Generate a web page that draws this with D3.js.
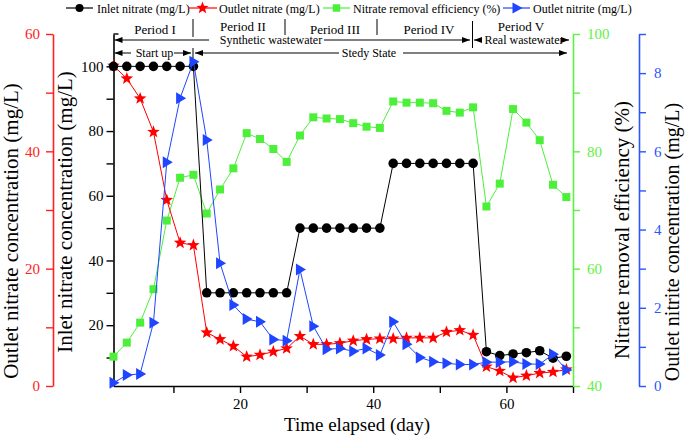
<!DOCTYPE html>
<html><head><meta charset="utf-8">
<script src="https://cdn.jsdelivr.net/npm/d3@7/dist/d3.min.js"></script>
<style>body{margin:0;background:#fff}svg{display:block;font-family:"Liberation Serif","Times New Roman",serif}svg text{font-family:"Liberation Serif","Times New Roman",serif}</style>
</head><body><svg id="c" width="685" height="437"></svg>
<script>
// ---------------- data ----------------
const days = [1,3,5,7,9,11,13,15,17,19,21,23,25,27,29,31,33,35,37,39,41,43,45,47,49,51,53,55,57,59,61,63,65,67,69];
const inletNitrate = [100,100,100,100,100,100,100, 30,30,30,30,30,30,30, 50,50,50,50,50,50,50, 70,70,70,70,70,70,70, 11.8,10.6,11.1,11.5,12.1,9.8,10.4];
const outletNitrate = [54.6,52.4,49.0,43.3,31.7,24.4,24.0, 9.1,7.95,6.8,5.0,5.3,5.85,6.4, 8.5,7.1,7.1,7.3,7.7,7.95,8.07, 8.07,8.2,8.2,8.2,9.2,9.5,8.7, 3.3,2.56,1.4,1.76,2.2,2.4,2.8];
const removalEff = [45.0,47.4,50.8,56.5,68.2,75.5,76.0, 69.4,73.5,77.1,83.1,82.1,80.4,78.2, 82.7,85.8,85.6,85.5,84.8,84.2,84.0, 88.5,88.3,88.3,88.2,86.9,86.6,87.5, 70.6,74.5,87.2,84.9,81.9,74.3,72.2];
const outletNitrite = [0.08,0.28,0.31,1.62,5.72,7.36,8.29, 6.29,3.14,2.07,1.71,1.64,1.19,1.16, 2.98,1.53,0.94,0.96,0.89,0.96,0.79, 1.64,1.07,0.73,0.62,0.58,0.55,0.55, 0.61,0.61,0.62,0.56,0.56,0.81,0.41];

const xTickValues = [10,20,30,40,50,60,70];
const xTickLabels = [20,40,60];
const inletTicks = [10,20,30,40,50,60,70,80,90,100];
const inletLabels = [20,40,60,80,100];
const outletTicks = [0,10,20,30,40,50,60];
const outletLabels = [0,20,40,60];
const effTicks = [40,50,60,70,80,90,100];
const effLabels = [40,60,80,100];
const nitriteTicks = [0,1,2,3,4,5,6,7,8,9];
const nitriteLabels = [0,2,4,6,8];

const seriesNames = ["Inlet nitrate (mg/L)","Outlet nitrate (mg/L)","Nitrate removal efficiency (%)","Outlet nitrite (mg/L)"];
const periodNames = ["Period I","Period II","Period III","Period IV","Period V"];

// ---------------- styles ----------------
const BLACK="#000", RED="#ff0000", GREEN="#4cf03a", BLUE="#1f45ff";
const RED_AX="#ff2020", GREEN_AX="#5ff040", BLUE_AX="#2a55ff";
const SERIF='"Liberation Serif","Times New Roman",serif';

const svg = d3.select("#c");
const L=113.5, R=573, B=386, T=34;

const x = d3.scaleLinear().domain([1,70]).range([L,R]);
const yIn = d3.scaleLinear().domain([1.2,110]).range([B,T]);
const yOut = d3.scaleLinear().domain([0,60]).range([B,T]);
const yEff = d3.scaleLinear().domain([40,100]).range([B,T]);
const yNi = d3.scaleLinear().domain([0,9]).range([B,T]);

function styleAxis(g, color, fs){
  g.attr("font-family",SERIF).attr("font-size",fs);
  g.selectAll("path.domain").attr("stroke",color).attr("stroke-width",1.6);
  g.selectAll(".tick line").attr("stroke",color).attr("stroke-width",1.4);
  g.selectAll(".tick text").attr("fill",color).style("font-size",fs+"px").style("font-family",SERIF);
}
const fmt = labels => d => labels.includes(d) ? d : "";

// x axis
const gx = svg.append("g").attr("transform",`translate(0,${B})`)
  .call(d3.axisBottom(x).tickValues(xTickValues).tickFormat(fmt(xTickLabels)).tickSize(7).tickSizeOuter(0).tickPadding(5));
styleAxis(gx,BLACK,15);

// inlet axis
const gin = svg.append("g").attr("transform",`translate(${L},0)`)
  .call(d3.axisLeft(yIn).tickValues(inletTicks).tickFormat(fmt(inletLabels)).tickSize(7).tickSizeOuter(0).tickPadding(3));
styleAxis(gin,BLACK,15);
svg.append("line").attr("x1",L).attr("x2",L+5).attr("y1",T).attr("y2",T).attr("stroke",BLACK).attr("stroke-width",1.4);

// outlet nitrate axis
const gout = svg.append("g").attr("transform",`translate(53,0)`)
  .call(d3.axisLeft(yOut).tickValues(outletTicks).tickFormat(fmt(outletLabels)).tickSize(7).tickSizeOuter(0).tickPadding(6));
styleAxis(gout,RED_AX,15);

// efficiency axis
const geff = svg.append("g").attr("transform",`translate(${R},0)`)
  .call(d3.axisRight(yEff).tickValues(effTicks).tickFormat(fmt(effLabels)).tickSize(7).tickSizeOuter(0).tickPadding(7));
styleAxis(geff,GREEN_AX,15);

// nitrite axis
const gni = svg.append("g").attr("transform",`translate(639,0)`)
  .call(d3.axisRight(yNi).tickValues(nitriteTicks).tickFormat(fmt(nitriteLabels)).tickSize(7).tickSizeOuter(0).tickPadding(8));
styleAxis(gni,BLUE_AX,15);

// axis titles
svg.append("text").attr("x",357).attr("y",431).attr("text-anchor","middle").style("font-size","19px").text("Time elapsed (day)");
function vtitle(cx, cy, txt, fs){
  svg.append("text").attr("transform",`translate(${cx},${cy}) rotate(-90)`).attr("text-anchor","middle")
    .style("font-size",fs+"px").text(txt);
}
vtitle(18,231,"Outlet nitrate concentration (mg/L)",21);
vtitle(72,212,"Inlet nitrate concentration (mg/L)",21);
vtitle(629,230,"Nitrate removal efficiency (%)",21);
vtitle(679,242,"Outlet nitrite concentration (mg/L)",20);

// ---------------- markers ----------------
function starPath(R0){
  const r0=R0*0.42; let p="";
  for(let i=0;i<10;i++){const a=-Math.PI/2+i*Math.PI/5; const rr=i%2?r0:R0; p+=(i?"L":"M")+(rr*Math.cos(a)).toFixed(2)+","+(rr*Math.sin(a)).toFixed(2);}
  return p+"Z";
}
function triPath(w,h){return `M${-w/2+1},${-h/2}L${w/2+1},0L${-w/2+1},${h/2}Z`;}
function squarePath(s){return `M${-s/2},${-s/2}h${s}v${s}h${-s}Z`;}
function circlePath(r){return `M${-r},0a${r},${r} 0 1,0 ${2*r},0a${r},${r} 0 1,0 ${-2*r},0`;}

const series = [
  {vals:removalEff, y:yEff, color:GREEN, mark:squarePath(8)},
  {vals:outletNitrate, y:yOut, color:RED, mark:starPath(6.6)},
  {vals:inletNitrate, y:yIn, color:BLACK, mark:circlePath(4.8)},
  {vals:outletNitrite, y:yNi, color:BLUE, mark:triPath(10,12)}
];
series.forEach(s=>{
  const pts = days.map((d,i)=>[x(d), s.y(s.vals[i])]);
  svg.append("path").attr("d",d3.line()(pts)).attr("fill","none").attr("stroke",s.color).attr("stroke-width",1);
  svg.append("g").selectAll("path").data(pts).join("path")
    .attr("transform",p=>`translate(${p[0]},${p[1]})`).attr("d",s.mark).attr("fill",s.color);
});

// ---------------- legend ----------------
const legend = [
  {x0:66,x1:93,color:BLACK,mark:circlePath(4),tx:97},
  {x0:188,x1:217,color:RED,mark:starPath(6.4),tx:219},
  {x0:323,x1:350,color:GREEN,mark:squarePath(7.5),tx:353},
  {x0:503,x1:530,color:BLUE,mark:triPath(10,11),tx:533}
];
legend.forEach((l,i)=>{
  svg.append("line").attr("x1",l.x0).attr("x2",l.x1).attr("y1",8).attr("y2",8).attr("stroke",l.color).attr("stroke-width",1.2);
  svg.append("path").attr("transform",`translate(${(l.x0+l.x1)/2},8)`).attr("d",l.mark).attr("fill",l.color);
  svg.append("text").attr("x",l.tx).attr("y",12.5).style("font-size","12px").text(seriesNames[i]);
});

// ---------------- period annotations ----------------
const periodPos = [[155,29],[243,26],[335,29],[429,29],[521,26]];
periodNames.forEach((p,i)=>{
  svg.append("text").attr("x",periodPos[i][0]).attr("y",periodPos[i][1]+4.5).attr("text-anchor","middle").style("font-size","13px").text(p);
});
[[193,19,37],[285,19,35],[377,19,35],[472.5,21,48],[193,48,58]].forEach(d=>{
  svg.append("line").attr("x1",d[0]).attr("x2",d[0]).attr("y1",d[1]).attr("y2",d[2]).attr("stroke","#000").attr("stroke-width",1);
});
function arrow(xa, xb, y){ // line from xa to xb, arrowhead at xb
  svg.append("line").attr("x1",xa).attr("x2",xb).attr("y1",y).attr("y2",y).attr("stroke","#000").attr("stroke-width",1);
  const dir = xb>xa?1:-1;
  svg.append("path").attr("d",`M${xb},${y}L${xb-dir*8},${y-3}L${xb-dir*8},${y+3}Z`).attr("fill","#000");
}
function ann(txt, cx, y){svg.append("text").attr("x",cx).attr("y",y+4).attr("text-anchor","middle").style("font-size","12px").text(txt);}
// row 1
arrow(209,L+1,40); ann("Synthetic wastewater",271,40); arrow(324,470,40);
arrow(482,474,40); ann("Real wastewater",524,40); arrow(562,569,40);
// row 2
arrow(131,L+1,53); ann("Start up",154.5,53); arrow(174,191,53);
arrow(339,195,53); ann("Stedy State",369,53); arrow(403,567,53);
</script></body></html>
